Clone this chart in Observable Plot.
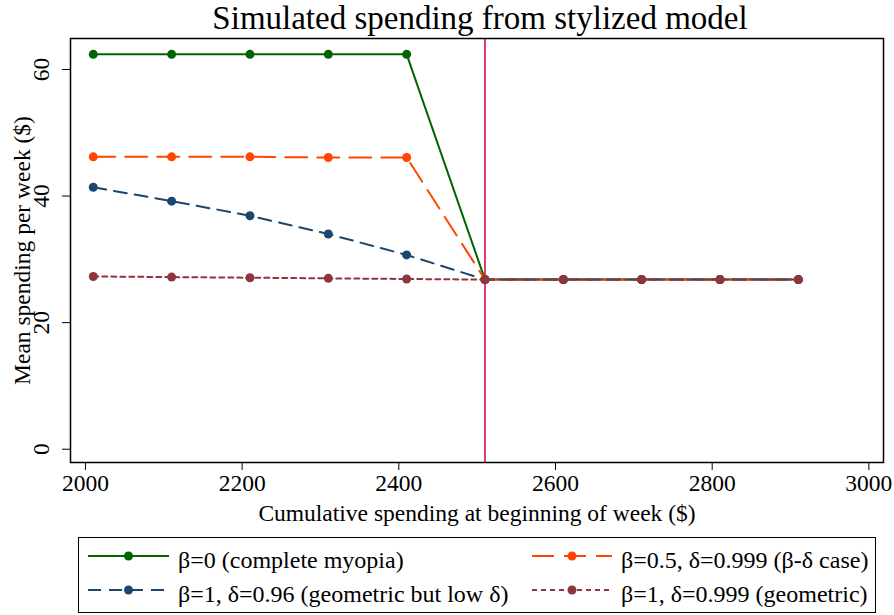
<!DOCTYPE html>
<html>
<head>
<meta charset="utf-8">
<script src="https://cdn.jsdelivr.net/npm/d3@7"></script>
<script src="https://cdn.jsdelivr.net/npm/@observablehq/plot@0.6"></script>
<style>
  body { margin: 0; background: #fff; }
  #wrap { position: relative; width: 894px; height: 615px; font-family: "Liberation Serif", "Times New Roman", serif; color: #000; }
  #title { position: absolute; left: 74px; width: 812px; top: 0px; text-align: center; font-size: 33px; line-height: 36px; }
  #chart { position: absolute; left: 0; top: 36px; }
  #chart svg, #chart svg text { font-family: "Liberation Serif", "Times New Roman", serif !important; }
  #legend { position: absolute; left: 78px; top: 537px; width: 798px; height: 76px; border: 1.5px solid #000; box-sizing: border-box; font-family: "Liberation Serif", serif; }
  .item { position: absolute; height: 30px; display: flex; align-items: center; font-size: 24px; white-space: nowrap; font-family: "Liberation Serif", serif; }
  .item svg { margin-right: 9px; }
</style>
</head>
<body>
<div id="wrap">
  <div id="title">Simulated spending from stylized model</div>
  <div id="chart"></div>
  <div id="legend"></div>
</div>
<script>
const weeks = [2010, 2110, 2210, 2310, 2410, 2510, 2610, 2710, 2810, 2910];
const seriesNames = [
  "β=0 (complete myopia)",
  "β=0.5, δ=0.999 (β-δ case)",
  "β=1, δ=0.96 (geometric but low δ)",
  "β=1, δ=0.999 (geometric)"
];
const myopia    = [62.4, 62.4, 62.4, 62.4, 62.4, 26.8, 26.8, 26.8, 26.8, 26.8];
const betaDelta = [46.2, 46.2, 46.2, 46.1, 46.1, 26.8, 26.8, 26.8, 26.8, 26.8];
const lowDelta  = [41.4, 39.2, 36.9, 34.0, 30.7, 26.8, 26.8, 26.8, 26.8, 26.8];
const geometric = [27.3, 27.2, 27.1, 27.0, 26.9, 26.8, 26.8, 26.8, 26.8, 26.8];
const xTicks = [2000, 2200, 2400, 2600, 2800, 3000];
const yTicks = [0, 20, 40, 60];
const cutoff = [2510];

const styles = [
  {values: myopia,    color: "#006400", dash: null,   width: 2},
  {values: betaDelta, color: "#ff4500", dash: "22,10", width: 2},
  {values: lowDelta,  color: "#1a476f", dash: "13,8", width: 2},
  {values: geometric, color: "#90353b", dash: "5,4",  width: 2}
];

const serif = "'Liberation Serif', 'Times New Roman', serif";
const marks = [
  Plot.ruleX(cutoff, {stroke: "#d6104a", strokeWidth: 1.6}),
];
styles.forEach((s, i) => {
  const data = weeks.map((x, j) => ({x, y: s.values[j], series: seriesNames[i]}));
  marks.push(Plot.line(data, {x: "x", y: "y", stroke: s.color, strokeWidth: s.width, strokeDasharray: s.dash}));
  marks.push(Plot.dot(data, {x: "x", y: "y", fill: s.color, r: 4.5}));
});
marks.push(Plot.frame({stroke: "#000", strokeWidth: 1.5}));
marks.push(Plot.axisX({ticks: xTicks, tickFormat: "d", tickSize: 8, tickPadding: 4, fontSize: 23.5, fontFamily: serif,
  label: "Cumulative spending at beginning of week ($)", labelAnchor: "center", labelArrow: "none", labelOffset: 58}));
marks.push(Plot.axisY({ticks: yTicks, tickSize: 8, tickRotate: -90, tickPadding: 14, fontSize: 23.5, fontFamily: serif,
  label: "Mean spending per week ($)", labelAnchor: "center", labelArrow: "none", labelOffset: 57}));

const chart = Plot.plot({
  width: 894,
  height: 500,
  marginTop: 2,
  marginBottom: 74,
  marginLeft: 70,
  marginRight: 11,
  style: {fontFamily: serif, fontSize: "23.5px", color: "#000", background: "#fff"},
  x: {domain: [1980.9, 3018.7]},
  y: {domain: [-2.1, 64.9]},
  marks
});
document.getElementById("chart").appendChild(chart);

// legend
const legend = document.getElementById("legend");
const pos = [
  {left: 9, top: 7}, {left: 453, top: 7},
  {left: 9, top: 41}, {left: 453, top: 41}
];
const swatchW = [81, 80, 81, 80];
styles.forEach((s, i) => {
  const div = document.createElement("div");
  div.className = "item";
  div.style.left = pos[i].left + "px";
  div.style.top = pos[i].top + "px";
  const w = swatchW[i];
  const svg = d3.create("svg").attr("width", w).attr("height", 12).style("margin-top", "-8px");
  svg.append("line").attr("x1", 0).attr("x2", w).attr("y1", 6).attr("y2", 6)
    .attr("stroke", s.color).attr("stroke-width", 2.2).attr("stroke-dasharray", s.dash);
  svg.append("circle").attr("cx", w / 2).attr("cy", 6).attr("r", 4.5).attr("fill", s.color);
  div.appendChild(svg.node());
  const span = document.createElement("span");
  span.textContent = seriesNames[i];
  div.appendChild(span);
  legend.appendChild(div);
});
</script>
</body>
</html>
